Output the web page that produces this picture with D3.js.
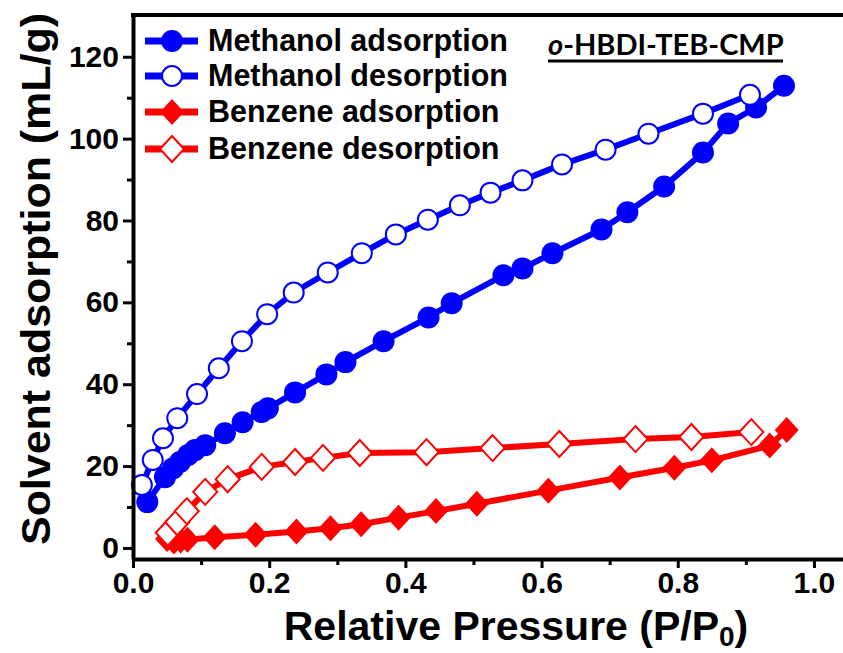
<!DOCTYPE html>
<html lang="en">
<head>
    <meta charset="UTF-8">
    <title>Solvent adsorption</title>
    <script type="text/javascript" src="https://d3js.org/d3.v7.min.js"></script>
    <style>
        body { margin: 0; background: #fff; }
        svg text { font-family: "Liberation Sans", Arial, sans-serif; font-weight: bold; }
    </style>
</head>
<body>
    <svg class="canvas"></svg>
    <script type="text/javascript">
        var svg_width = 843, svg_height = 653;

        // methanol adsorption (filled circles)
        var methAdsP = [0.021, 0.047, 0.059, 0.069, 0.081, 0.091, 0.106, 0.135, 0.161, 0.189, 0.198, 0.238, 0.284,
                        0.312, 0.368, 0.434, 0.468, 0.544, 0.572, 0.616, 0.688, 0.726, 0.78, 0.837, 0.874, 0.915, 0.956];
        var methAdsV = [11.2, 17.3, 19.5, 21.0, 22.7, 23.9, 25.1, 28.0, 30.7, 33.2, 34.1, 38.0, 42.4,
                        45.4, 50.5, 56.3, 59.8, 66.6, 68.3, 72.0, 77.8, 82.0, 88.3, 96.6, 103.7, 107.6, 112.9];
        // methanol desorption (open circles)
        var methDesP = [0.013, 0.029, 0.044, 0.065, 0.094, 0.126, 0.16, 0.197, 0.236, 0.286, 0.336, 0.386, 0.433,
                        0.48, 0.525, 0.572, 0.63, 0.694, 0.757, 0.837, 0.906];
        var methDesV = [15.4, 21.5, 26.8, 31.7, 37.6, 43.9, 50.5, 57.1, 62.4, 67.3, 72.0, 76.6, 80.2,
                        83.7, 86.8, 89.8, 93.7, 97.3, 101.2, 106.1, 110.7];
        // benzene adsorption (filled diamonds)
        var benzAdsP = [0.05, 0.06, 0.07, 0.08, 0.12, 0.18, 0.24, 0.29, 0.335, 0.39, 0.445, 0.505, 0.61, 0.715,
                        0.795, 0.85, 0.935, 0.96];
        var benzAdsV = [2.2, 1.6, 1.8, 2.0, 2.6, 3.2, 4.0, 4.8, 5.8, 7.4, 9.0, 10.8, 14.0, 17.2,
                        19.6, 21.4, 25.0, 28.8];
        // benzene desorption (open diamonds)
        var benzDesP = [0.051, 0.065, 0.079, 0.106, 0.139, 0.189, 0.238, 0.279, 0.333, 0.431, 0.528, 0.626,
                        0.738, 0.82, 0.908];
        var benzDesV = [3.7, 6.3, 9.0, 13.7, 16.8, 19.8, 21.0, 22.0, 23.2, 23.4, 24.4, 25.4,
                        26.6, 27.1, 28.3];

        var seriesNames = ['Methanol adsorption', 'Methanol desorption', 'Benzene adsorption', 'Benzene desorption'];
        var xTicks = [0, 0.2, 0.4, 0.6, 0.8, 1.0], xMinor = [0.1, 0.3, 0.5, 0.7, 0.9];
        var yTicks = [0, 20, 40, 60, 80, 100, 120], yMinor = [10, 30, 50, 70, 90, 110];

        var xScale = d3.scaleLinear().domain([0, 1.05]).range([133, 848]),
            yScale = d3.scaleLinear().domain([-2.7, 130.2]).range([559, 15]);

        var svg = d3.select('svg').attr('width', svg_width).attr('height', svg_height);

        var series = [
            {name: seriesNames[0], p: methAdsP, v: methAdsV, color: '#0000ff', shape: 'circle', filled: true},
            {name: seriesNames[1], p: methDesP, v: methDesV, color: '#0000ff', shape: 'circle', filled: false},
            {name: seriesNames[2], p: benzAdsP, v: benzAdsV, color: '#ff0000', shape: 'diamond', filled: true},
            {name: seriesNames[3], p: benzDesP, v: benzDesV, color: '#ff0000', shape: 'diamond', filled: false}
        ];

        var diamond = 'M0,-13L12,0L0,13L-12,0Z';

        var addMarker = function(g, s) {
            if (s.shape == 'circle') {
                g.append('circle')
                    .attr('r', s.filled ? 11 : 10)
                    .attr('fill', s.filled ? s.color : '#fff')
                    .attr('stroke', s.color)
                    .attr('stroke-width', s.filled ? 0 : 2);
            } else {
                g.append('path')
                    .attr('d', diamond)
                    .attr('fill', s.filled ? s.color : '#fff')
                    .attr('stroke', s.color)
                    .attr('stroke-width', s.filled ? 0 : 2);
            }
        };

        var line = d3.line()
                    .x(function(d) { return xScale(d[0]); })
                    .y(function(d) { return yScale(d[1]); });

        // data
        series.forEach(function(s) {
            var pts = d3.zip(s.p, s.v);
            svg.append('path')
                .datum(pts)
                .attr('d', line)
                .attr('fill', 'none')
                .attr('stroke', s.color)
                .attr('stroke-width', 6)
                .attr('stroke-linejoin', 'round');
            svg.append('g').selectAll('g')
                .data(pts)
                .enter()
                .append('g')
                .attr('transform', function(d) { return 'translate(' + xScale(d[0]) + ',' + yScale(d[1]) + ')'; })
                .each(function() { addMarker(d3.select(this), s); });
        });

        // axes
        svg.append('g').attr('transform', 'translate(0,559)')
            .call(d3.axisBottom(xScale).tickValues(xTicks).tickFormat(d3.format('.1f'))
                .tickSize(9).tickSizeOuter(0).tickPadding(4));
        svg.append('g').attr('transform', 'translate(0,559)')
            .call(d3.axisBottom(xScale).tickValues(xMinor).tickFormat('').tickSize(6).tickSizeOuter(0))
            .select('.domain').remove();

        svg.append('g').attr('transform', 'translate(133,0)')
            .call(d3.axisLeft(yScale).tickValues(yTicks).tickSize(10).tickSizeOuter(0).tickPadding(4));
        svg.append('g').attr('transform', 'translate(133,0)')
            .call(d3.axisLeft(yScale).tickValues(yMinor).tickFormat('').tickSize(6).tickSizeOuter(0))
            .select('.domain').remove();

        svg.selectAll('.domain').attr('stroke', '#000').attr('stroke-width', 4);
        svg.selectAll('.tick line').attr('stroke', '#000').attr('stroke-width', 3);
        svg.selectAll('.tick text')
            .attr('font-family', '"Liberation Sans", Arial, sans-serif')
            .attr('font-size', 30)
            .attr('fill', '#000');

        // top frame
        svg.append('line')
            .attr('x1', 131).attr('x2', svg_width)
            .attr('y1', 15).attr('y2', 15)
            .attr('stroke', '#000').attr('stroke-width', 4);

        // axis titles
        svg.append('text')
            .attr('transform', 'translate(50,' + 279 + ') rotate(-90)')
            .attr('text-anchor', 'middle')
            .attr('font-size', 41)
            .attr('textLength', 532)
            .attr('lengthAdjust', 'spacingAndGlyphs')
            .text('Solvent adsorption (mL/g)');

        var xt = svg.append('text')
            .attr('x', 516).attr('y', 640)
            .attr('text-anchor', 'middle')
            .attr('font-size', 41);
        xt.append('tspan').text('Relative Pressure (P/P');
        xt.append('tspan').attr('font-size', 28).attr('dy', 6).text('0');
        xt.append('tspan').attr('dy', -6).text(')');

        // legend
        var legend = svg.append('g');
        var rowY = [41, 76, 112, 149];
        series.forEach(function(s, i) {
            var row = legend.append('g').attr('transform', 'translate(0,' + rowY[i] + ')');
            row.append('line')
                .attr('x1', 145).attr('x2', 198)
                .attr('stroke', s.color).attr('stroke-width', 7);
            addMarker(row.append('g').attr('transform', 'translate(172,0)'), s);
            row.append('text')
                .attr('x', 208).attr('y', 10)
                .attr('font-size', 30.5)
                .text(s.name);
        });

        // sample label
        var title = svg.append('text')
            .attr('x', 548).attr('y', 55)
            .style('font-family', 'Lato, "Open Sans", sans-serif')
            .attr('font-size', 29);
        title.append('tspan').attr('font-style', 'italic').text('o');
        title.append('tspan').text('-HBDI-TEB-CMP');
        svg.append('line')
            .attr('x1', 548).attr('x2', 783)
            .attr('y1', 61).attr('y2', 61)
            .attr('stroke', '#000').attr('stroke-width', 3);
    </script>
</body>
</html>
